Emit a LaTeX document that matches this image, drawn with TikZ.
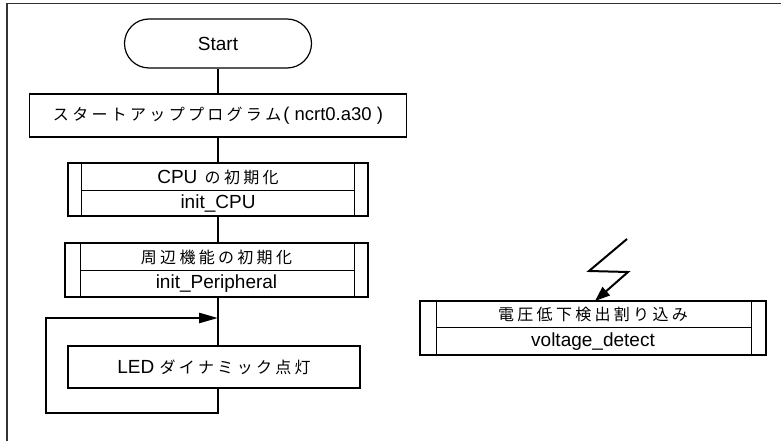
\documentclass[tikz,border=0pt]{standalone}
\usepackage{fontspec}
\setmainfont{Liberation Sans}
\newfontfamily\cjk{Noto Sans CJK JP}
\usetikzlibrary{shapes.misc,arrows.meta}
\newcommand\lat{\fontsize{19}{22}\selectfont}
\def\jsend{\jsend}
\def\js#1{{\cjk\fontsize{16}{20}\selectfont\jsfirst#1\jsend}}
\def\jsfirst#1{#1\jsloop}
\def\jsloop#1{\ifx\jsend#1\else\kern3.3pt\relax#1\expandafter\jsloop\fi}
\tikzset{
  frameline/.style={line width=1.8pt, draw=black!80},
  box/.style={draw, line width=1.2pt, rectangle, inner sep=0pt, font=\lat},
  innerline/.style={line width=1.2pt},
  terminal/.style={draw, line width=1.2pt, rounded rectangle, minimum width=187pt, minimum height=49pt, inner sep=0pt, font=\lat},
  flow/.style={line width=2.6pt},
  bolt/.style={line width=2pt, line join=miter},
  looptip/.style={-{Triangle[length=19pt,width=10pt]}},
  bolttip/.style={-{Triangle[length=15pt,width=11pt]}},
  lbl/.style={inner sep=0pt, font=\lat},
}
\begin{document}
\begin{tikzpicture}[x=1pt,y=-1pt]
\useasboundingbox (0,0) rectangle (781,441);
% frame
\coordinate (frameTR) at (781,3.5);
\coordinate (frameTL) at (7,3.5);
\coordinate (frameBL) at (7,441);
\draw[frameline] (frameTR) -- (frameTL) -- (frameBL);

% start
\node[terminal] (start) at (218,43.5) {Start};
% startup
\node[box, minimum width=377pt, minimum height=43pt] (startup) at (218,115.5)
  {\js{スタートアッププログラム}\hspace{2pt}{\fontsize{18.5}{21}\selectfont( ncrt0.a30 )}};

% CPU subroutine
\node[box, minimum width=300pt, minimum height=53pt] (cpu) at (218,189.5) {};
\draw[innerline] ([xshift=14pt]cpu.north west) -- ([xshift=14pt]cpu.south west);
\draw[innerline] ([xshift=-14pt]cpu.north east) -- ([xshift=-14pt]cpu.south east);
\draw[innerline] ([xshift=14pt,yshift=-28pt]cpu.north west) -- ([xshift=-14pt,yshift=-28pt]cpu.north east);
\node[lbl] (cpuA) at (218,177) {CPU\hspace{2pt} \js{の初期化}};
\node[lbl] (cpuB) at (218,203.5) {init\_CPU};

% Peripheral subroutine
\node[box, minimum width=303pt, minimum height=54pt] (peri) at (216.5,270) {};
\draw[innerline] ([xshift=16pt]peri.north west) -- ([xshift=16pt]peri.south west);
\draw[innerline] ([xshift=-14pt]peri.north east) -- ([xshift=-14pt]peri.south east);
\draw[innerline] ([xshift=16pt,yshift=-28pt]peri.north west) -- ([xshift=-14pt,yshift=-28pt]peri.north east);
\node[lbl] (periA) at (216.5,257) {\js{周辺機能の初期化}};
\node[lbl] (periB) at (216.5,284) {init\_Peripheral};

% LED
\node[box, minimum width=292pt, minimum height=42pt] (led) at (214,367) {LED \js{ダイナミック点灯}};

% Voltage subroutine
\node[box, minimum width=346pt, minimum height=54pt] (volt) at (593,328) {};
\draw[innerline] ([xshift=17pt]volt.north west) -- ([xshift=17pt]volt.south west);
\draw[innerline] ([xshift=-15pt]volt.north east) -- ([xshift=-15pt]volt.south east);
\draw[innerline] ([xshift=17pt,yshift=-27pt]volt.north west) -- ([xshift=-15pt,yshift=-27pt]volt.north east);
\node[lbl] (voltA) at (593,314.5) {\js{電圧低下検出割り込み}};
\node[lbl] (voltB) at (593,341.5) {voltage\_detect};

% main flow
\draw[flow] (start.south) -- (start.south |- startup.north);
\draw[flow] (startup.south -| start.south) -- (start.south |- cpu.north);
\draw[flow] (cpu.south) -- (cpu.south |- peri.north);
\draw[flow] (peri.south -| cpu.south) -- (cpu.south |- led.north);
\coordinate (merge) at (218,318);
\coordinate (loopcorner) at (46,413);
\draw[flow, looptip] (led.south -| merge) -- (merge |- loopcorner) -- (loopcorner) -- (loopcorner |- merge) -- (merge);

% interrupt bolt
\coordinate (boltA) at (627,239);
\coordinate (boltB) at (589,271);
\coordinate (boltC) at (628,272);
\coordinate (boltD) at (595,301);
\draw[bolt, bolttip] (boltA) -- (boltB) -- (boltC) -- (boltD);
\end{tikzpicture}
\end{document}
